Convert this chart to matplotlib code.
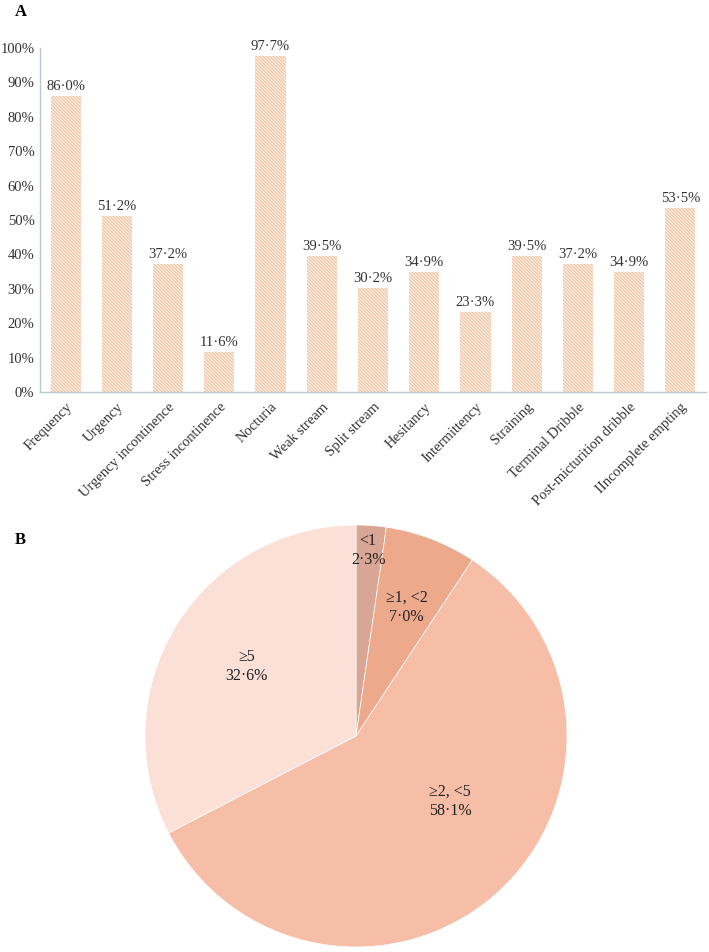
import matplotlib.pyplot as plt
import numpy as np

plt.rcParams['font.family'] = ['Liberation Serif', 'DejaVu Serif']
plt.rcParams['hatch.linewidth'] = 0.55

# ── Data ─────────────────────────────────────────────────────────────────────
symptoms = ['Frequency', 'Urgency', 'Urgency incontinence', 'Stress incontinence',
            'Nocturia', 'Weak stream', 'Split stream', 'Hesitancy', 'Intermittency',
            'Straining', 'Terminal Dribble', 'Post-micturition dribble',
            'IIncomplete empting']
pct = [86.0, 51.2, 37.2, 11.6, 97.7, 39.5, 30.2, 34.9, 23.3, 39.5, 37.2, 34.9, 53.5]

pie_labels = ['<1', '\u22651, <2', '\u22652, <5', '\u22655']
pie_pct = [2.3, 7.0, 58.1, 32.6]
pie_colors = ['#d9a695', '#eda98c', '#f6bda7', '#fae0d7']

W, H = 709, 952
fig = plt.figure(figsize=(W / 100, H / 100), dpi=100)

# ── A: bar chart ─────────────────────────────────────────────────────────────
ax = fig.add_axes([40 / W, 1 - 392 / H, 666 / W, 344 / H])
x = np.arange(len(symptoms))
ax.bar(x, pct, width=0.59, facecolor='#fcece0', edgecolor='#ebb68f',
       hatch='\\' * 10, linewidth=0)
for xi, v in zip(x, pct):
    ax.text(xi, v + 0.8, f'{v:.1f}'.replace('.', '\u00b7') + '%',
            ha='center', va='bottom', fontsize=10.5, color='#333333')

ax.set_xlim(-0.5, len(symptoms) - 0.5)
ax.set_ylim(0, 100)
ax.set_yticks(np.arange(0, 101, 10))
ax.set_yticklabels([f'{t}%' for t in range(0, 101, 10)], fontsize=10.5,
                   color='#333333')
ax.set_xticks(x)
ax.set_xticklabels(symptoms, rotation=45, ha='right', rotation_mode='anchor',
                   fontsize=10.5, color='#333333')
ax.tick_params(length=0, axis='y', pad=4)
ax.tick_params(length=0, axis='x', pad=6)
for s in ['top', 'right']:
    ax.spines[s].set_visible(False)
for s in ['left', 'bottom']:
    ax.spines[s].set_color('#b8c8cc')
    ax.spines[s].set_linewidth(1.0)

fig.text(15 / W, 1 - 12 / H, 'A', fontsize=12, fontweight='bold', va='center')

# ── B: pie chart ─────────────────────────────────────────────────────────────
r = 211
cx, cy = 356, 736
axp = fig.add_axes([(cx - r) / W, 1 - (cy + r) / H, 2 * r / W, 2 * r / H])
wedges, _ = axp.pie(pie_pct, colors=pie_colors, startangle=90, counterclock=False,
                    wedgeprops=dict(edgecolor='white', linewidth=0.5))
axp.set_xlim(-1, 1)
axp.set_ylim(-1, 1)
axp.set_aspect('equal')

label_pos = [(0.057, 0.88), (0.24, 0.61), (0.445, -0.31), (-0.52, 0.33)]
for lab, v, (lx, ly) in zip(pie_labels, pie_pct, label_pos):
    axp.text(lx, ly, lab + '\n' + f'{v:.1f}'.replace('.', '\u00b7') + '%',
             ha='center', va='center', fontsize=11.5, color='#222222',
             linespacing=1.3)

fig.text(15 / W, 1 - 540 / H, 'B', fontsize=12, fontweight='bold', va='center')

fig.savefig('out.png', dpi=100)
